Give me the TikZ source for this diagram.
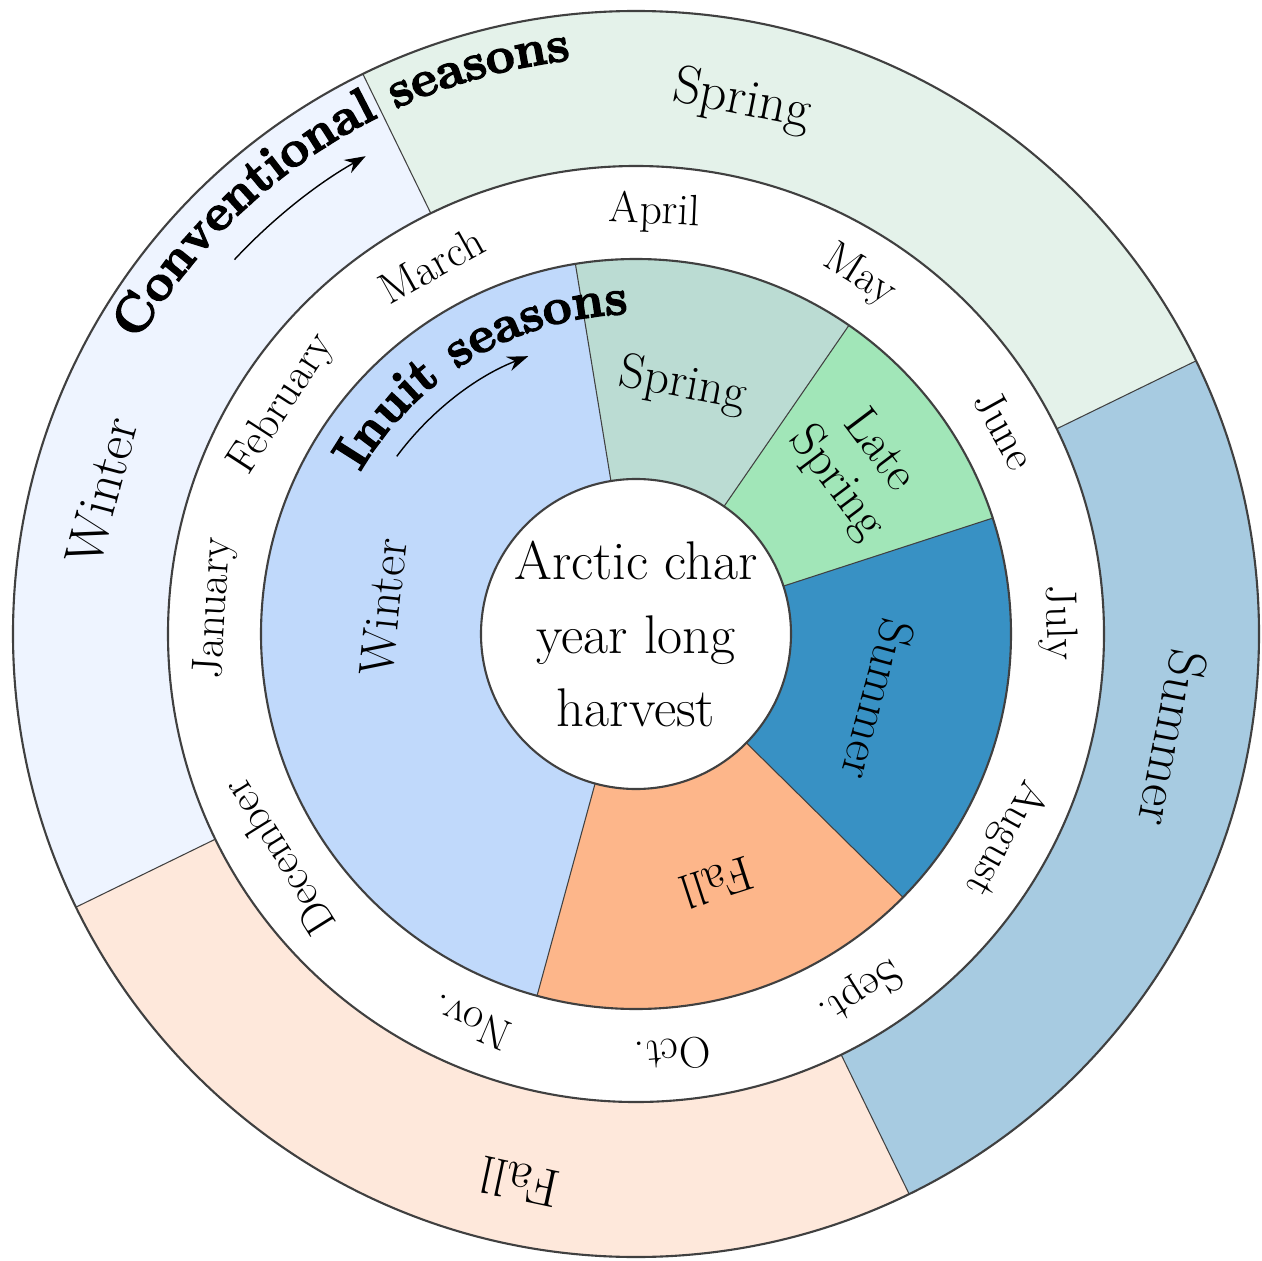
\documentclass[tikz,border=0pt]{standalone}
\usepackage{fontspec}
\usetikzlibrary{arrows.meta,decorations.text}
\newfontfamily\posterfamily{Latin Modern Roman}[BoldFeatures={FakeBold=3}]
\definecolor{cWin}{RGB}{238,244,255}
\definecolor{cSpr}{RGB}{228,242,234}
\definecolor{cSum}{RGB}{167,203,225}
\definecolor{cFal}{RGB}{254,232,219}
\definecolor{iWin}{RGB}{192,217,251}
\definecolor{iSpr}{RGB}{187,220,211}
\definecolor{iLat}{RGB}{161,230,184}
\definecolor{iSum}{RGB}{56,145,196}
\definecolor{iFal}{RGB}{253,182,138}
\definecolor{edge}{RGB}{64,64,64}
\newcommand\annsec[5]{\fill[#1] (#2:#4) arc[start angle=#2,end angle=#3,radius=#4] -- (#3:#5) arc[start angle=#3,end angle=#2,radius=#5] -- cycle;}
\newcommand\convtitlefont{\posterfamily\bfseries\fontsize{29}{31}\selectfont}
\newcommand\inuittitlefont{\posterfamily\bfseries\fontsize{29}{31}\selectfont}
\begin{document}
\begin{tikzpicture}[
  ring/.style={draw=edge, line width=1.2pt},
  divider/.style={draw=edge, line width=0.6pt},
  monthlabel/.style={font=\fontsize{25}{27}\selectfont, inner sep=0pt},
  outerlabel/.style={font=\fontsize{30.5}{33}\selectfont, inner sep=0pt},
  innerlabel/.style={font=\fontsize{28}{30}\selectfont, inner sep=0pt, align=center},
  flowarrow/.style={line width=0.8pt, -{Stealth[length=0.42cm,width=0.3cm,inset=0.14cm]}}
]
\useasboundingbox[fill=white] (-12.72,-12.52) rectangle (12.52,12.68);
\def\Ro{12.46}
\def\Rb{9.36}
\def\Rc{7.5}
\def\Ri{3.1}
% conventional seasons
\annsec{cWin}{116}{206}{\Rb}{\Ro}
\annsec{cSpr}{26}{116}{\Rb}{\Ro}
\annsec{cSum}{-64}{26}{\Rb}{\Ro}
\annsec{cFal}{-154}{-64}{\Rb}{\Ro}
% inuit seasons
\annsec{iWin}{99.3}{254.7}{\Ri}{\Rc}
\annsec{iSpr}{55.4}{99.3}{\Ri}{\Rc}
\annsec{iLat}{18}{55.4}{\Ri}{\Rc}
\annsec{iSum}{-44.6}{18}{\Ri}{\Rc}
\annsec{iFal}{-105.3}{-44.6}{\Ri}{\Rc}
% dividers
\foreach \a in {116,26,-64,206} \draw[divider] (\a:\Rb) -- (\a:\Ro);
\foreach \a in {99.3,55.4,18,-44.6,-105.3} \draw[divider] (\a:\Ri) -- (\a:\Rc);
% rings
\draw[ring] (0,0) circle[radius=\Ro];
\draw[ring] (0,0) circle[radius=\Rb];
\draw[ring] (0,0) circle[radius=\Rc];
\node[circle, draw=edge, line width=1.2pt, fill=white, minimum size=6.2cm, inner sep=0pt] (hub) at (0,0) {};
\node[align=center, font=\fontsize{31}{41.8}\selectfont, inner sep=0pt] (hubtext) at (hub.center) {Arctic char\\year long\\harvest};
% months
\foreach \ang/\txt [count=\i] in {87.5/April,58/May,29/June,1.5/July,-29/August,-58/Sept.,-85/Oct.,-113/Nov.,-148/December,176.5/January,147/February,119/March}
  \node[monthlabel, rotate=\ang-90] (month\i) at (\ang:8.44) {\txt};
% outer season labels
\node[outerlabel, rotate=-11.25] (oSpring) at (78.75:10.86) {Spring};
\node[outerlabel, rotate=-101] (oSummer) at (-11:10.94) {Summer};
\node[outerlabel, rotate=-192] (oFall) at (-102:11.2) {Fall};
\node[outerlabel, rotate=75] (oWinter) at (165:11.06) {Winter};
% inner season labels
\node[innerlabel, rotate=84] (iWinter) at (174:5.08) {Winter};
\node[innerlabel, rotate=-10.7] (iSpring) at (79.3:5.06) {Spring};
\node[innerlabel, rotate=-53] (iLate) at (37:5.54) {Late\\Spring};
\node[innerlabel, rotate=-105.2] (iSummer) at (-15.2:5.02) {Summer};
\node[innerlabel, rotate=-162] (iFall) at (-72:5.24) {Fall};
% titles
\coordinate (convStart) at (173:11.55);
\path[decorate, decoration={text along path, text={|\convtitlefont|Conventional seasons}, text align=center}]
  (convStart) arc[start angle=173, end angle=73, radius=11.55];
\coordinate (inuitStart) at (175.5:6.4);
\path[decorate, decoration={text along path, text={|\inuittitlefont|Inuit seasons}, text align=center}]
  (inuitStart) arc[start angle=175.5, end angle=65.5, radius=6.4];
% arrows
\coordinate (convArrow) at (137:10.98);
\draw[flowarrow] (convArrow) arc[start angle=137, end angle=119.5, radius=10.98];
\coordinate (inuitArrow) at (143.4:5.96);
\draw[flowarrow] (inuitArrow) arc[start angle=143.4, end angle=111.2, radius=5.96];
\end{tikzpicture}
\end{document}
